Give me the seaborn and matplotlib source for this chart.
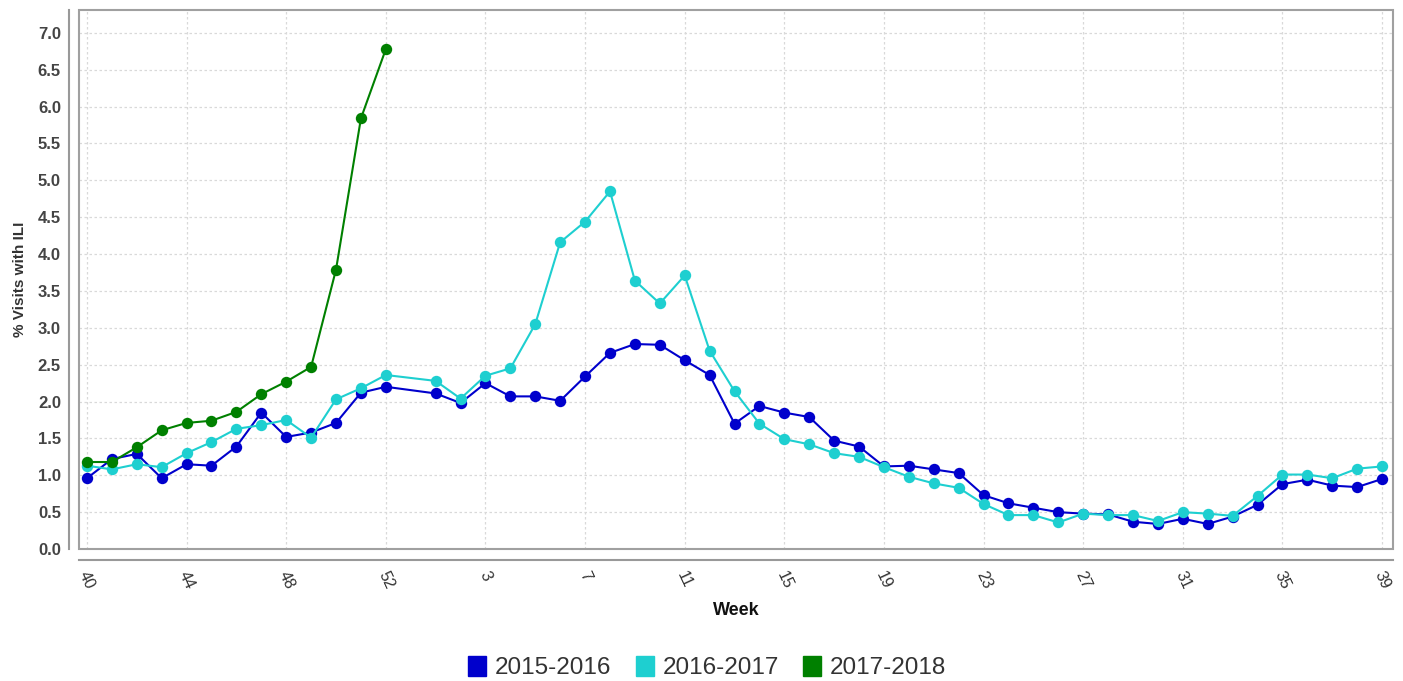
import numpy as np
import pandas as pd
import matplotlib.pyplot as plt
import matplotlib.patches as mpatches
import seaborn as sns

# week labels: season runs week 40 -> 53 -> 1 -> 39
weeks = [str(w) for w in range(40, 54)] + [str(w) for w in range(1, 40)]

s2015 = [0.96, 1.22, 1.29, 0.96, 1.15, 1.13, 1.39, 1.85, 1.52, 1.58, 1.71, 2.12, 2.20, np.nan,
         2.11, 1.98, 2.25, 2.07, 2.07, 2.01, 2.34, 2.66, 2.78, 2.77, 2.56, 2.36, 1.70, 1.94,
         1.85, 1.79, 1.47, 1.39, 1.12, 1.13, 1.08, 1.03, 0.73, 0.62, 0.56, 0.50, 0.48, 0.47,
         0.37, 0.34, 0.41, 0.34, 0.44, 0.60, 0.88, 0.94, 0.86, 0.84, 0.95]
s2016 = [1.13, 1.08, 1.15, 1.11, 1.30, 1.45, 1.63, 1.68, 1.75, 1.51, 2.03, 2.18, 2.36, np.nan,
         2.28, 2.04, 2.35, 2.45, 3.05, 4.16, 4.44, 4.85, 3.64, 3.33, 3.71, 2.69, 2.14, 1.70,
         1.49, 1.42, 1.30, 1.25, 1.11, 0.98, 0.89, 0.83, 0.61, 0.46, 0.46, 0.36, 0.48, 0.46,
         0.46, 0.38, 0.50, 0.48, 0.45, 0.72, 1.01, 1.01, 0.96, 1.09, 1.12]
s2017 = [1.18, 1.18, 1.38, 1.61, 1.71, 1.74, 1.86, 2.10, 2.27, 2.47, 3.79, 5.84, 6.78]

seasons = ["2015-2016", "2016-2017", "2017-2018"]
colors = ["#0000CC", "#1ECFD0", "#008000"]

# Build long-form table
pos = np.arange(len(weeks))
frames = []
for name, vals in zip(seasons, [s2015, s2016, s2017]):
    frames.append(pd.DataFrame({"pos": pos[:len(vals)], "ili": vals, "season": name}))
df = pd.concat(frames, ignore_index=True).dropna()

sns.set_style("white")
plt.rcParams["font.family"] = ["Liberation Sans", "DejaVu Sans"]

fig = plt.figure(figsize=(14.03, 6.81), dpi=100)
ax = fig.add_axes([0.0563, 0.1938, 0.9366, 0.7915])

sns.lineplot(data=df, x="pos", y="ili", hue="season", hue_order=seasons,
             palette=colors, marker="o", markersize=8.2, markeredgewidth=0,
             linewidth=1.5, legend=False, ax=ax)

# Offset axis lines (do this before tick labels, it resets ticks)
for side in ["top", "right"]:
    ax.spines[side].set_visible(False)
ax.spines["left"].set_position(("outward", 7))
ax.spines["bottom"].set_position(("outward", 8))
for side in ["left", "bottom"]:
    ax.spines[side].set_color("#999999")
    ax.spines[side].set_linewidth(1.5)
ax.add_patch(mpatches.Rectangle((0, 0), 1, 1, transform=ax.transAxes, fill=False,
                                edgecolor="#a0a0a0", linewidth=1.5, clip_on=False))

ax.set_xlim(-0.32, 52.44)
ax.set_ylim(0, 7.31)
ax.set_xticks(pos[::4])
ax.set_xticklabels(weeks[::4])
ax.set_yticks(np.arange(0, 7.01, 0.5))
ax.set_yticklabels([f"{v:.1f}" for v in np.arange(0, 7.01, 0.5)])
ax.tick_params(axis="both", length=3, width=1, color="#888888", pad=3)
ax.tick_params(axis="x", pad=3)
plt.setp(ax.get_xticklabels(), rotation=-65, ha="center", va="top",
         fontsize=11.5, color="#333333")
plt.setp(ax.get_yticklabels(), fontsize=12, fontweight="bold", color="#444444")

# Dotted grid
ax.grid(True, color="#d9d9d9", linestyle=(0, (2, 2)), linewidth=0.9)
ax.set_axisbelow(True)

ax.set_xlabel("Week", fontsize=13, fontweight="bold", color="#111111", labelpad=8)
ax.set_ylabel("% Visits with ILI", fontsize=11, fontweight="bold", color="#333333",
              labelpad=8)

handles = [mpatches.Patch(facecolor=c, edgecolor=c, label=s) for s, c in zip(seasons, colors)]
fig.legend(handles=handles, loc="center", bbox_to_anchor=(0.504, 0.02), ncol=3,
           frameon=False, fontsize=17.5, handlelength=0.75, handleheight=0.9,
           handletextpad=0.35, columnspacing=1.0, labelcolor="#333333")

fig.savefig("out.png", dpi=100)
